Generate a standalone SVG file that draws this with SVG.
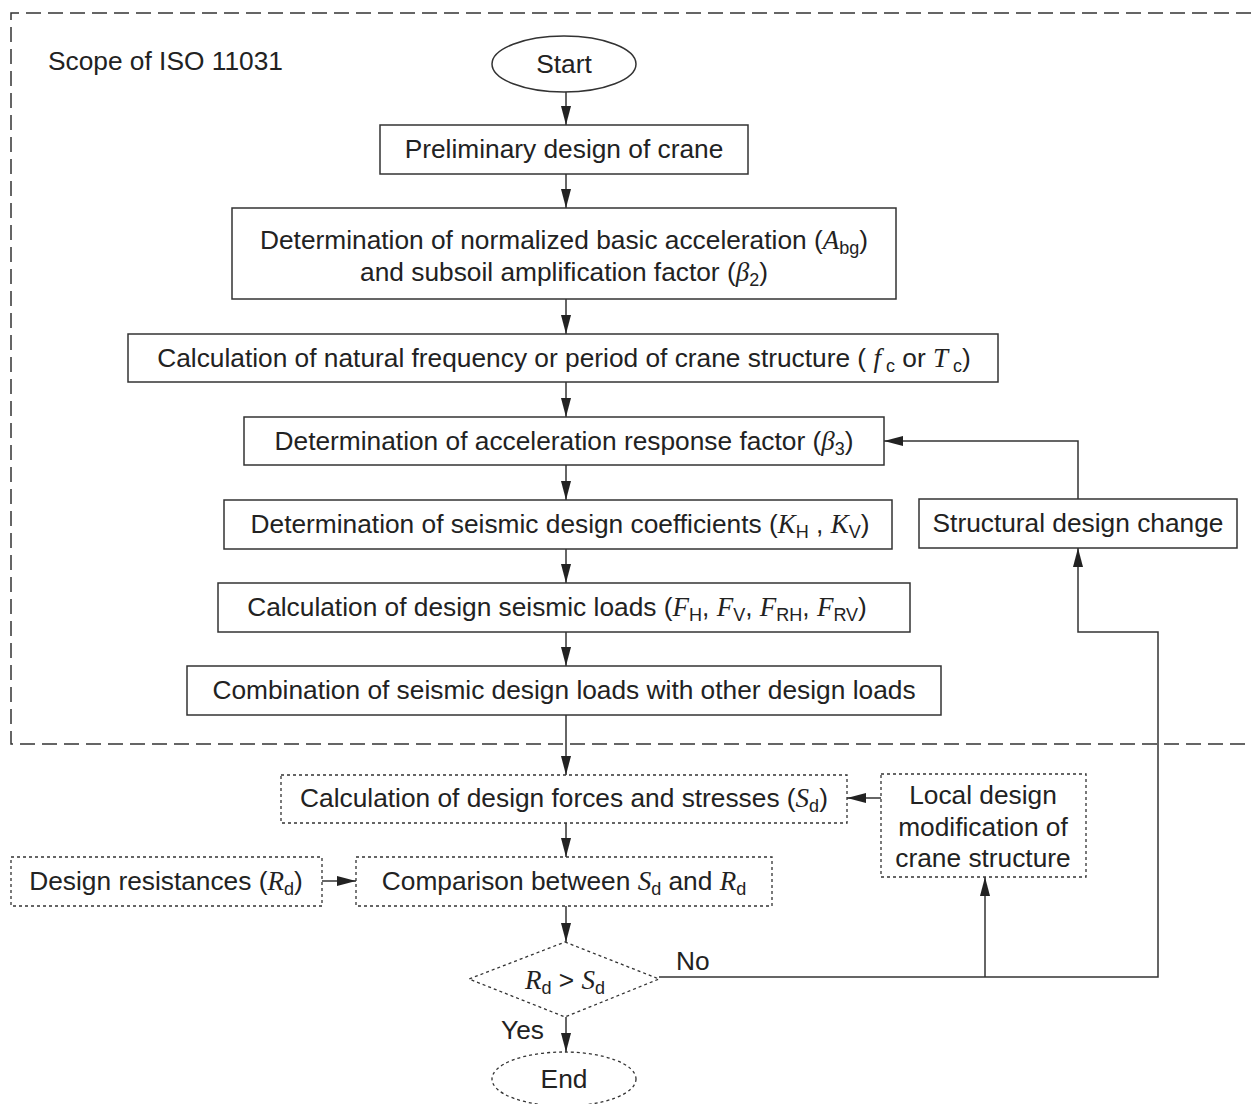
<svg xmlns="http://www.w3.org/2000/svg" width="1251" height="1104" viewBox="0 0 1251 1104">
<style>
text{font-family:"Liberation Sans",Arial,sans-serif;font-size:26.3px;fill:#222}
.c{text-anchor:middle}
.m{font-family:"Liberation Serif","Times New Roman",serif;font-style:italic;font-size:27px}
.s{font-size:18px}
.box{fill:#fff;stroke:#333;stroke-width:1.5}
.dot{fill:#fff;stroke:#333;stroke-width:1.3;stroke-dasharray:3 3}
.ln{fill:none;stroke:#333;stroke-width:1.5}
</style>
<defs>
<marker id="ah" markerUnits="userSpaceOnUse" markerWidth="20" markerHeight="12" refX="19" refY="6" orient="auto">
<path d="M0,1 L19,6 L0,11 Z" fill="#222"/>
</marker>
</defs>
<rect width="1251" height="1104" fill="#fff"/>
<g id="scope">
<path d="M1251,13 L11,13 L11,744 L1251,744" fill="none" stroke="#333" stroke-width="1.5" stroke-dasharray="15 7"/>
<text x="48" y="70">Scope of ISO 11031</text>
</g>
<g id="connectors">
<line class="ln" x1="566" y1="92" x2="566" y2="125" marker-end="url(#ah)"/>
<line class="ln" x1="566" y1="174" x2="566" y2="208" marker-end="url(#ah)"/>
<line class="ln" x1="566" y1="299" x2="566" y2="334" marker-end="url(#ah)"/>
<line class="ln" x1="566" y1="382" x2="566" y2="417" marker-end="url(#ah)"/>
<line class="ln" x1="566" y1="465" x2="566" y2="500" marker-end="url(#ah)"/>
<line class="ln" x1="566" y1="549" x2="566" y2="583" marker-end="url(#ah)"/>
<line class="ln" x1="566" y1="632" x2="566" y2="666" marker-end="url(#ah)"/>
<line class="ln" x1="566" y1="715" x2="566" y2="775" marker-end="url(#ah)"/>
<line class="ln" x1="566" y1="823" x2="566" y2="857" marker-end="url(#ah)"/>
<line class="ln" x1="566" y1="906" x2="566" y2="942" marker-end="url(#ah)"/>
<line class="ln" x1="566" y1="1017" x2="566" y2="1052" marker-end="url(#ah)"/>
<line class="ln" x1="322" y1="881" x2="356" y2="881" marker-end="url(#ah)"/>
<line class="ln" x1="881" y1="798" x2="847" y2="798" marker-end="url(#ah)"/>
<polyline class="ln" points="659,977 1158,977 1158,632 1078,632 1078,548" marker-end="url(#ah)"/>
<line class="ln" x1="985" y1="977" x2="985" y2="877" marker-end="url(#ah)"/>
<polyline class="ln" points="1078,499 1078,441 884,441" marker-end="url(#ah)"/>
<text x="676" y="970">No</text>
<text x="501" y="1039">Yes</text>
</g>
<g id="start">
<ellipse class="box" cx="564" cy="64" rx="72" ry="28"/>
<text class="c" x="564" y="73">Start</text>
</g>
<g id="prelim">
<rect class="box" x="380" y="125" width="368" height="49"/>
<text class="c" x="564" y="158">Preliminary design of crane</text>
</g>
<g id="accel">
<rect class="box" x="232" y="208" width="664" height="91"/>
<text class="c" x="564" y="249">Determination of normalized basic acceleration (<tspan class="m">A</tspan><tspan class="s" dy="5">bg</tspan><tspan dy="-5">)</tspan></text>
<text class="c" x="564" y="281">and subsoil amplification factor (<tspan class="m">β</tspan><tspan class="s" dy="5">2</tspan><tspan dy="-5">)</tspan></text>
</g>
<g id="freq">
<rect class="box" x="128" y="334" width="870" height="48"/>
<text class="c" x="564" y="367">Calculation of natural frequency or period of crane structure ( <tspan class="m">f</tspan><tspan class="s" dy="5"> c</tspan><tspan dy="-5"> or </tspan><tspan class="m">T</tspan><tspan class="s" dy="5"> c</tspan><tspan dy="-5">)</tspan></text>
</g>
<g id="beta3">
<rect class="box" x="244" y="417" width="640" height="48"/>
<text class="c" x="564" y="450">Determination of acceleration response factor (<tspan class="m">β</tspan><tspan class="s" dy="5">3</tspan><tspan dy="-5">)</tspan></text>
</g>
<g id="coef">
<rect class="box" x="224" y="500" width="668" height="49"/>
<text class="c" x="560" y="533">Determination of seismic design coefficients (<tspan class="m">K</tspan><tspan class="s" dy="5">H</tspan><tspan dy="-5"> , </tspan><tspan class="m">K</tspan><tspan class="s" dy="5">V</tspan><tspan dy="-5">)</tspan></text>
</g>
<g id="loads">
<rect class="box" x="218" y="583" width="692" height="49"/>
<text class="c" x="557" y="616">Calculation of design seismic loads (<tspan class="m">F</tspan><tspan class="s" dy="5">H</tspan><tspan dy="-5">, </tspan><tspan class="m">F</tspan><tspan class="s" dy="5">V</tspan><tspan dy="-5">, </tspan><tspan class="m">F</tspan><tspan class="s" dy="5">RH</tspan><tspan dy="-5">, </tspan><tspan class="m">F</tspan><tspan class="s" dy="5">RV</tspan><tspan dy="-5">)</tspan></text>
</g>
<g id="combo">
<rect class="box" x="187" y="666" width="754" height="49"/>
<text class="c" x="564" y="699">Combination of seismic design loads with other design loads</text>
</g>
<g id="structural">
<rect class="box" x="919" y="499" width="318" height="49"/>
<text class="c" x="1078" y="532">Structural design change</text>
</g>
<g id="forces">
<rect class="dot" x="281" y="775" width="566" height="48"/>
<text class="c" x="564" y="807">Calculation of design forces and stresses (<tspan class="m">S</tspan><tspan class="s" dy="5">d</tspan><tspan dy="-5">)</tspan></text>
</g>
<g id="local">
<rect class="dot" x="881" y="774" width="205" height="103"/>
<text class="c" x="983" y="804">Local design</text>
<text class="c" x="983" y="836">modification of</text>
<text class="c" x="983" y="867">crane structure</text>
</g>
<g id="resist">
<rect class="dot" x="11" y="857" width="311" height="49"/>
<text class="c" x="166" y="890">Design resistances (<tspan class="m">R</tspan><tspan class="s" dy="5">d</tspan><tspan dy="-5">)</tspan></text>
</g>
<g id="compare">
<rect class="dot" x="356" y="857" width="416" height="49"/>
<text class="c" x="564" y="890">Comparison between <tspan class="m">S</tspan><tspan class="s" dy="5">d</tspan><tspan dy="-5"> and </tspan><tspan class="m">R</tspan><tspan class="s" dy="5">d</tspan></text>
</g>
<g id="decision">
<polygon class="dot" points="565,942 659,979 565,1017 469,979"/>
<text class="c" x="565" y="989"><tspan class="m">R</tspan><tspan class="s" dy="5">d</tspan><tspan dy="-5"> &gt; </tspan><tspan class="m">S</tspan><tspan class="s" dy="5">d</tspan></text>
</g>
<g id="end">
<ellipse class="dot" cx="564" cy="1079" rx="72" ry="27"/>
<text class="c" x="564" y="1088">End</text>
</g>
</svg>
